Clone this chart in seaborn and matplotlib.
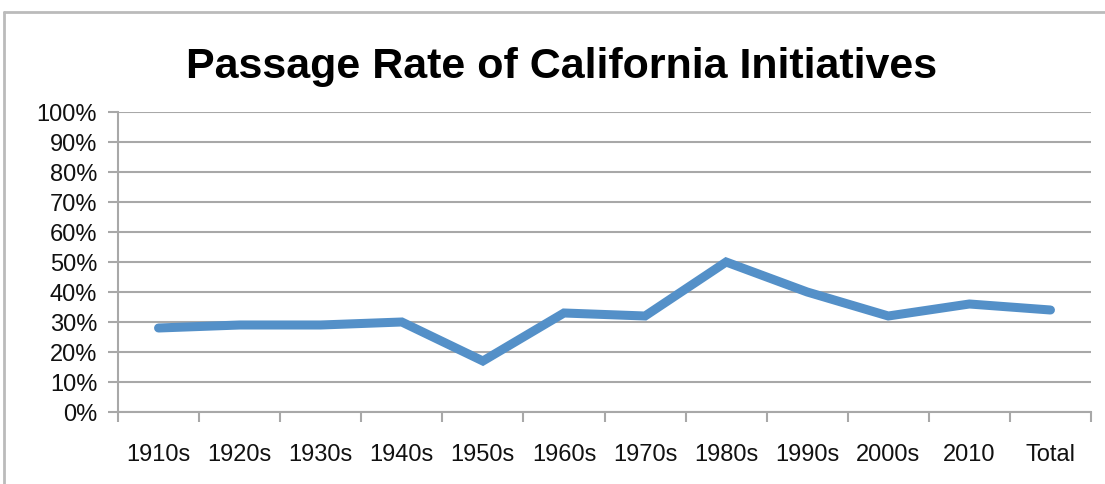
import matplotlib
matplotlib.use("Agg")
import matplotlib.pyplot as plt
from matplotlib.lines import Line2D
from matplotlib.ticker import FixedLocator, PercentFormatter
import seaborn as sns
import pandas as pd

decades = ["1910s", "1920s", "1930s", "1940s", "1950s", "1960s",
           "1970s", "1980s", "1990s", "2000s", "2010", "Total"]
passage_rate = [28, 29, 29, 30, 17, 33, 32, 50, 40, 32, 36, 34]
title = "Passage Rate of California Initiatives"

sns.set_theme(style="white")
plt.rcParams["font.family"] = ["Liberation Sans", "DejaVu Sans"]

df = pd.DataFrame({"decade": decades, "rate": passage_rate})
df["pos"] = range(len(decades))

fig = plt.figure(figsize=(11.05, 4.85), dpi=100)
ax = fig.add_axes([118/1105, 1-413/485, (1091-118)/1105, (413-113)/485])

sns.lineplot(data=df, x="pos", y="rate", ax=ax, color="#5490C8",
             linewidth=6.5, solid_capstyle="round", solid_joinstyle="miter")

grid_c = "#A8A8A8"
ax.set_ylim(0, 100)
ax.set_xlim(-0.5, len(decades) - 0.5)
ax.set_yticks(range(0, 101, 10))
ax.yaxis.set_major_formatter(PercentFormatter(decimals=0))
ax.yaxis.grid(True, color=grid_c, linewidth=1.5)
ax.xaxis.grid(False)
ax.set_axisbelow(True)

ax.set_xticks(df["pos"])
ax.set_xticklabels(decades)
ax.xaxis.set_minor_locator(FixedLocator([i - 0.5 for i in range(len(decades) + 1)]))
ax.tick_params(axis="x", which="both", bottom=True)
ax.tick_params(axis="y", which="both", left=True)
ax.tick_params(axis="x", which="major", length=0, pad=22, labelsize=17, labelcolor="#111111")
ax.tick_params(axis="x", which="minor", length=7, width=1.5, color=grid_c, direction="out")
ax.tick_params(axis="y", which="major", length=7, width=1.5, color=grid_c, direction="out",
               pad=8, labelsize=17, labelcolor="#111111")
ax.set_xlabel("")
ax.set_ylabel("")

for s in ["top", "right"]:
    ax.spines[s].set_visible(False)
for s in ["left", "bottom"]:
    ax.spines[s].set_color(grid_c)
    ax.spines[s].set_linewidth(1.5)

fig.text(562/1105, 1-78/485, title, ha="center", va="baseline",
         fontsize=31, fontweight="bold", color="black")

# chart frame (top and left visible)
fig.add_artist(Line2D([4/1105, 1.0], [1-13/485, 1-13/485], color="#BBBBBB", linewidth=2,
                      transform=fig.transFigure))
fig.add_artist(Line2D([4/1105, 4/1105], [0.0, 1-13/485], color="#BBBBBB", linewidth=2,
                      transform=fig.transFigure))

fig.savefig("out.png", dpi=100)
